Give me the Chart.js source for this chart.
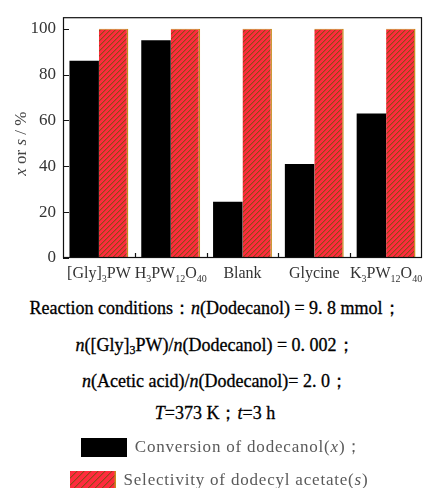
<!DOCTYPE html>
<html><head><meta charset="utf-8">
<script src="https://cdn.jsdelivr.net/npm/chart.js@4/dist/chart.umd.min.js"></script>
<style>
html,body{margin:0;padding:0;background:#fff;width:430px;height:488px;overflow:hidden;}
#wrap{position:relative;width:430px;height:488px;}
#c{position:absolute;left:0;top:0;}
.line{position:absolute;left:0;width:430px;text-align:center;font-family:"Liberation Serif","DejaVu Serif",serif;font-size:18px;color:#000;white-space:nowrap;height:24px;line-height:24px;-webkit-text-stroke:0.3px #000;}
.line i{font-style:italic;}
.line sub{font-size:12px;vertical-align:-3px;line-height:0;}
.leg{display:flex;justify-content:center;align-items:center;-webkit-text-stroke:0;color:#5a5a5a;letter-spacing:0.8px;font-size:17px;}
.leg canvas{margin-right:8px;}
</style></head>
<body><div id="wrap">
<canvas id="c" width="430" height="290"></canvas>
<div class="line" style="top:296px">Reaction conditions：<i>n</i>(Dodecanol) = 9. 8 mmol；</div>
<div class="line" style="top:333px"><i>n</i>([Gly]<sub>3</sub>PW)/<i>n</i>(Dodecanol) = 0. 002；</div>
<div class="line" style="top:369px"><i>n</i>(Acetic acid)/<i>n</i>(Dodecanol)= 2. 0；</div>
<div class="line" style="top:401px"><i>T</i>=373 K；<i>t</i>=3 h</div>
<div id="leg0" class="line leg" style="top:435px;left:7px"></div>
<div id="leg1" class="line leg" style="top:468px;left:4px"></div>
</div>
<script>
const categories = ['[Gly]_3PW', 'H_3PW_12O_40', 'Blank', 'Glycine', 'K_3PW_12O_40'];
const conversion = [86, 95, 24.5, 41, 63];
const selectivity = [100, 100, 100, 100, 100];
const yTicks = [0, 20, 40, 60, 80, 100];
const seriesNames = ['Conversion of dodecanol(x)；', 'Selectivity of dodecyl acetate(s)'];

const FAMILY = '"Liberation Serif","Times New Roman",serif';

function hatch(ctx, n) {
  const c = document.createElement('canvas'); c.width = n; c.height = n;
  const g = c.getContext('2d');
  const img = g.createImageData(n, n);
  const base = [255, 43, 61], dark = [150, 70, 25], mid = [205, 58, 45];
  for (let y = 0; y < n; y++) for (let x = 0; x < n; x++) {
    const k = (x + y) % n;
    const col = k === n - 1 ? dark : (k === 0 ? mid : base);
    const o = (y * n + x) * 4;
    img.data[o] = col[0]; img.data[o + 1] = col[1]; img.data[o + 2] = col[2]; img.data[o + 3] = 255;
  }
  g.putImageData(img, 0, 0);
  return ctx.createPattern(c, 'repeat');
}

function parseRich(s) {
  const parts = []; const re = /_(\d+)/g; let last = 0, m;
  while ((m = re.exec(s))) {
    if (m.index > last) parts.push({ t: s.slice(last, m.index) });
    parts.push({ t: m[1], sub: true });
    last = re.lastIndex;
  }
  if (last < s.length) parts.push({ t: s.slice(last) });
  return parts;
}
function fontOf(p, size) {
  return (p.it ? 'italic ' : '') + (p.sub ? Math.round(size * 0.65) : size) + 'px ' + FAMILY;
}
function drawRich(ctx, parts, cx, y, size, color) {
  let total = 0;
  for (const p of parts) { ctx.font = fontOf(p, size); p.w = ctx.measureText(p.t).width; total += p.w; }
  let x = cx - total / 2;
  ctx.fillStyle = color; ctx.textAlign = 'left'; ctx.textBaseline = 'alphabetic';
  for (const p of parts) { ctx.font = fontOf(p, size); ctx.fillText(p.t, x, y + (p.sub ? 4 : 0)); x += p.w; }
}

const framePlugin = {
  id: 'frame',
  afterDraw(chart) {
    const { ctx, chartArea: a, scales } = chart;
    ctx.save();
    ctx.strokeStyle = '#111'; ctx.lineWidth = 1.2;
    ctx.strokeRect(a.left + 0.5, a.top + 0.5, a.right - a.left - 1, a.bottom - a.top - 1);
    ctx.beginPath();
    for (const t of scales.y.ticks) {
      const py = Math.round(scales.y.getPixelForValue(t.value)) + 0.5;
      ctx.moveTo(a.left, py); ctx.lineTo(a.left + 6, py);
    }
    const n = categories.length;
    for (let i = 0; i < n - 1; i++) {
      const px = Math.round((scales.x.getPixelForValue(i) + scales.x.getPixelForValue(i + 1)) / 2) + 0.5;
      ctx.moveTo(px, a.bottom); ctx.lineTo(px, a.bottom - 5);
    }
    ctx.stroke();
    categories.forEach((c, i) => {
      drawRich(ctx, parseRich(c), scales.x.getPixelForValue(i), a.bottom + 20, 16, '#333');
    });
    ctx.translate(21, (a.top + a.bottom) / 2 + 6);
    ctx.rotate(-Math.PI / 2);
    drawRich(ctx, [{ t: 'x', it: true }, { t: ' or ' }, { t: 's', it: true }, { t: ' / %' }], 0, 5, 17, '#444');
    ctx.restore();
  }
};

const canvas = document.getElementById('c');
const ctx = canvas.getContext('2d');
const chart = new Chart(ctx, {
  type: 'bar',
  data: {
    labels: categories.map(s => s.replace(/_/g, '')),
    datasets: [
      { label: seriesNames[0], data: conversion, backgroundColor: '#000', borderWidth: 0 },
      { label: seriesNames[1], data: selectivity, backgroundColor: hatch(ctx, 5), borderColor: '#c98a1c',
        borderWidth: { top: 1, right: 1.5, left: 0, bottom: 0 } }
    ]
  },
  options: {
    responsive: false, animation: false,
    layout: { padding: { left: 0, right: 8, top: 13, bottom: 0 } },
    plugins: { legend: { display: false }, tooltip: { enabled: false } },
    datasets: { bar: { barPercentage: 1, categoryPercentage: 0.82 } },
    scales: {
      x: { grid: { display: false, drawTicks: false }, border: { display: false }, ticks: { display: false },
           afterFit(s) { s.height = 32; } },
      y: { min: 0, max: 105, grid: { display: false, drawTicks: false }, border: { display: false },
           ticks: { font: { family: FAMILY, size: 17 }, color: '#333', padding: 7 },
           afterBuildTicks(s) { s.ticks = yTicks.map(v => ({ value: v })); },
           afterFit(s) { s.width = 63; } }
    }
  },
  plugins: [framePlugin]
});

chart.data.datasets.forEach((ds, i) => {
  const row = document.getElementById('leg' + i);
  const sw = document.createElement('canvas');
  sw.width = 46; sw.height = 19;
  const g = sw.getContext('2d');
  g.fillStyle = i === 0 ? ds.backgroundColor : hatch(g, 7);
  g.fillRect(0, 0, 46, 19);
  if (i === 1) { g.strokeStyle = '#c98a1c'; g.lineWidth = 1.5; g.beginPath(); g.moveTo(45.25, 0); g.lineTo(45.25, 19); g.stroke(); }
  row.appendChild(sw);
  const span = document.createElement('span');
  span.innerHTML = ds.label.replace(/\(([xs])\)/, '(<i>$1</i>)');
  row.appendChild(span);
});
</script>
</body></html>
